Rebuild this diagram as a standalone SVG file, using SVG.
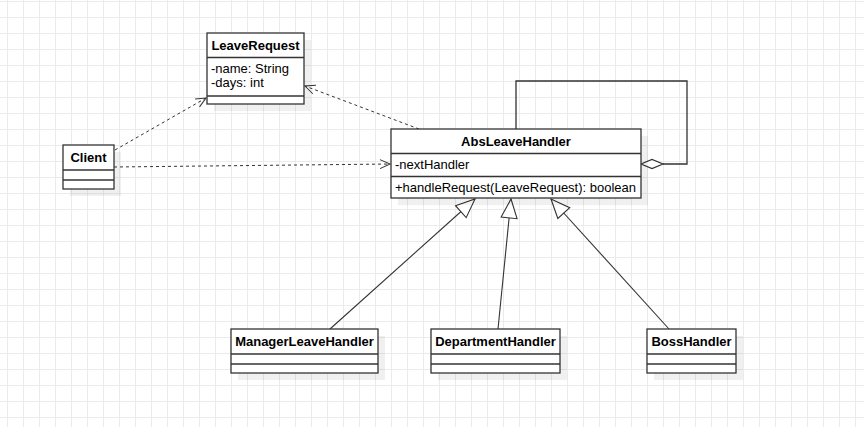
<svg xmlns="http://www.w3.org/2000/svg" width="864" height="427" viewBox="0 0 864 427">
<style>
.box{fill:#fff;stroke:#333;stroke-width:1.3}
.sep{stroke:#333;stroke-width:1.3}
.shadow{fill:#000;fill-opacity:0.06}
.t{font-family:"Liberation Sans",Arial,sans-serif;font-size:13px;font-weight:bold;fill:#000;text-anchor:middle}
.a{font-family:"Liberation Sans",Arial,sans-serif;font-size:13px;fill:#000}
.dep{fill:none;stroke:#333;stroke-width:1;stroke-dasharray:3 3;marker-end:url(#open)}
.gen{fill:none;stroke:#333;stroke-width:1.1;marker-end:url(#block)}
.loop{fill:none;stroke:#333;stroke-width:1.3}
</style>
<defs>
<pattern id="grid" x="7" y="1" width="16" height="16" patternUnits="userSpaceOnUse">
<rect x="0" y="0" width="1" height="16" fill="#ebebeb"/>
<rect x="0" y="0" width="16" height="1" fill="#ebebeb"/>
</pattern>
<marker id="open" markerUnits="userSpaceOnUse" markerWidth="12" markerHeight="12" refX="10" refY="5" orient="auto" overflow="visible">
<path d="M0,0.5 L10,5 L0,9.5" fill="none" stroke="#333" stroke-width="1"/>
</marker>
<marker id="block" markerUnits="userSpaceOnUse" markerWidth="22" markerHeight="18" refX="19" refY="8" orient="auto" overflow="visible">
<path d="M0,0 L19,8 L0,16 Z" fill="#fff" stroke="#333" stroke-width="1.1"/>
</marker>
</defs>
<rect x="0" y="0" width="864" height="427" fill="#fff"/>
<rect x="0" y="0" width="864" height="427" fill="url(#grid)"/>

<g id="connectors">
<path class="dep" d="M115,150 L206,98"/>
<path class="dep" d="M114,167 L390,164"/>
<path class="dep" d="M419,129 L305,86"/>
<path class="gen" d="M330,329 L475,199"/>
<path class="gen" d="M498,329 L511,199"/>
<path class="gen" d="M669,329 L551,199"/>
<path class="loop" d="M516,129 V81 H687 V164 H663"/>
<path d="M641,164 L652,159.5 L663,164 L652,168.5 Z" fill="#fff" stroke="#333" stroke-width="1.2"/>
</g>

<g id="LeaveRequest">
<rect class="shadow" x="214" y="40" width="97" height="71"/>
<rect class="box" x="207" y="33" width="97" height="71"/>
<line class="sep" x1="207" y1="57.5" x2="304" y2="57.5"/>
<line class="sep" x1="207" y1="96" x2="304" y2="96"/>
<text class="t" x="255.5" y="50">LeaveRequest</text>
<text class="a" x="211" y="72.5">-name: String</text>
<text class="a" x="211" y="87.3">-days: int</text>
</g>

<g id="Client">
<rect class="shadow" x="70" y="152" width="51" height="44"/>
<rect class="box" x="63" y="145" width="51" height="44"/>
<line class="sep" x1="63" y1="170" x2="114" y2="170"/>
<line class="sep" x1="63" y1="180" x2="114" y2="180"/>
<text class="t" x="88.5" y="162">Client</text>
</g>

<g id="AbsLeaveHandler">
<rect class="shadow" x="398" y="136" width="250" height="69"/>
<rect class="box" x="391" y="129" width="250" height="69"/>
<line class="sep" x1="391" y1="153.5" x2="641" y2="153.5"/>
<line class="sep" x1="391" y1="176.5" x2="641" y2="176.5"/>
<text class="t" x="516" y="146">AbsLeaveHandler</text>
<text class="a" x="395" y="169">-nextHandler</text>
<text class="a" x="395" y="192">+handleRequest(LeaveRequest): boolean</text>
</g>

<g id="ManagerLeaveHandler">
<rect class="shadow" x="238" y="336" width="147" height="44"/>
<rect class="box" x="231" y="329" width="147" height="44"/>
<line class="sep" x1="231" y1="354" x2="378" y2="354"/>
<line class="sep" x1="231" y1="364" x2="378" y2="364"/>
<text class="t" x="304.5" y="346">ManagerLeaveHandler</text>
</g>

<g id="DepartmentHandler">
<rect class="shadow" x="438" y="336" width="129" height="44"/>
<rect class="box" x="431" y="329" width="129" height="44"/>
<line class="sep" x1="431" y1="354" x2="560" y2="354"/>
<line class="sep" x1="431" y1="364" x2="560" y2="364"/>
<text class="t" x="495.5" y="346">DepartmentHandler</text>
</g>

<g id="BossHandler">
<rect class="shadow" x="654" y="336" width="89" height="44"/>
<rect class="box" x="647" y="329" width="89" height="44"/>
<line class="sep" x1="647" y1="354" x2="736" y2="354"/>
<line class="sep" x1="647" y1="364" x2="736" y2="364"/>
<text class="t" x="691.5" y="346">BossHandler</text>
</g>
</svg>
